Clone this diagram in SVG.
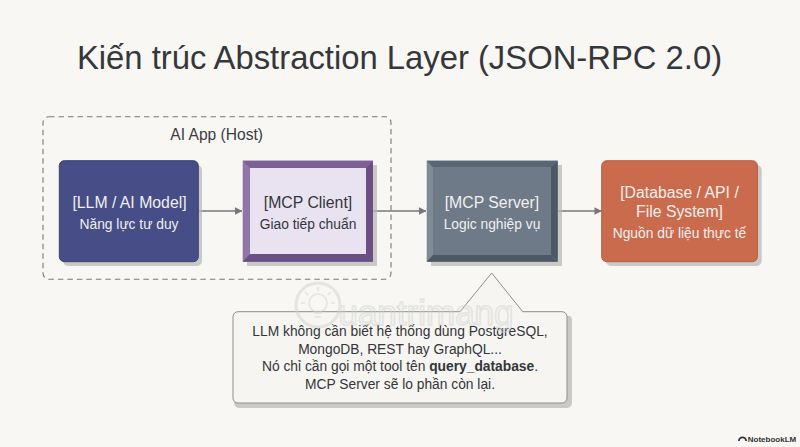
<svg xmlns="http://www.w3.org/2000/svg" width="800" height="447" viewBox="0 0 800 447">
<style>
text{font-family:"Liberation Sans",Arial,sans-serif;text-anchor:middle}
.t{font-size:15.800px}
.d{fill:#f1f0ee}
.u{font-size:13.800px}
.k{fill:#33363a;font-size:13.800px}
.c{fill:none;stroke:#76797c;stroke-width:1.400}
.s{fill:#b9b9b6;opacity:.75}
</style>
<defs>
<marker id="a" viewBox="0 0 8 8" refX="7.500" refY="4" markerWidth="7.500" markerHeight="7.500" markerUnits="userSpaceOnUse" orient="auto"><path d="M0 0L8 4L0 8Z" fill="#76797c"/></marker>
</defs>
<rect width="800" height="447" fill="#f8f7f4"/>
<text id="title" x="399.500" y="68.500" font-size="32.800" fill="#35373a">Kiến trúc Abstraction Layer (JSON-RPC 2.0)</text>
<g id="host">
<rect x="43" y="116.700" width="348" height="162.500" rx="6" fill="none" stroke="#77797b" stroke-width="1.100" stroke-dasharray="5.500 4"/>
<text x="216.700" y="140" font-size="15.600" fill="#3b3d40">AI App (Host)</text>
</g>
<g id="connectors">
<path class="c" d="M198.500 211H242" marker-end="url(#a)"/>
<path class="c" d="M373 211H426" marker-end="url(#a)"/>
<path class="c" d="M558 211H601.500" marker-end="url(#a)"/>
</g>
<g id="llm">
<rect class="s" x="63" y="165" width="139" height="101" rx="5"/>
<rect x="59.300" y="160.700" width="139" height="101" rx="5" fill="#464d87" stroke="#3a4074" stroke-width="1"/>
<text class="t d" x="129.500" y="208">[LLM / AI Model]</text>
<text class="u d" x="129" y="228.500">Năng lực tư duy</text>
</g>
<g id="client">
<rect class="s" x="247" y="165" width="130" height="101"/>
<rect x="242.700" y="160.700" width="130.300" height="101" fill="#8f75a8"/>
<path d="M242.700 160.700H373L366 168H250Z" fill="#7d6196"/>
<path d="M250 254H366L373 261.700H242.700Z" fill="#6a4f85"/>
<path d="M366 168L373 160.700V261.700L366 254Z" fill="#6a4f85"/>
<rect x="250" y="168" width="116" height="86" fill="#e9e3f1"/>
<text class="t" x="308" y="208" fill="#33363a">[MCP Client]</text>
<text class="k" x="308" y="228.500">Giao tiếp chuẩn</text>
</g>
<g id="server">
<rect class="s" x="431" y="165" width="131" height="101"/>
<rect x="426.700" y="160.700" width="131" height="101" fill="#7f8a96"/>
<path d="M426.700 160.700H557.700L551 167.300H433Z" fill="#5a6673"/>
<path d="M433 255H551L557.700 261.700H426.700Z" fill="#4d5865"/>
<path d="M551 167.300L557.700 160.700V261.700L551 255Z" fill="#4d5865"/>
<rect x="433" y="167.300" width="118" height="87.700" fill="#6e7a88"/>
<text class="t d" x="492" y="208">[MCP Server]</text>
<text class="u d" x="492" y="228.500">Logic nghiệp vụ</text>
</g>
<g id="database">
<rect class="s" x="606" y="165" width="155.700" height="101" rx="5"/>
<rect x="601.700" y="160.700" width="155.700" height="101" rx="5" fill="#ca6b4e" stroke="#b75d43" stroke-width="1"/>
<text class="t d" x="679.500" y="198">[Database / API /</text>
<text class="t d" x="679.500" y="217">File System]</text>
<text class="u d" x="679.500" y="237.500">Nguồn dữ liệu thực tế</text>
</g>
<g id="note">
<path class="s" d="M239 316H463L495 277L526 316H570a5 5 0 0 1 2 5V403a5 5 0 0 1-5 5H239a5 5 0 0 1-5-5V321a5 5 0 0 1 5-5Z"/>
<path d="M238 311.700H460L491.700 273L522.700 311.700H562a5 5 0 0 1 5 5V398a5 5 0 0 1-5 5H238a5 5 0 0 1-5-5V316.700a5 5 0 0 1 5-5Z" fill="#f6f5f2" stroke="#8d8f8f" stroke-width="1"/>
<text class="k" x="400" y="336">LLM không cần biết hệ thống dùng PostgreSQL,</text>
<text class="k" x="400" y="353.500">MongoDB, REST hay GraphQL...</text>
<text class="k" x="400" y="371">Nó chỉ cần gọi một tool tên <tspan font-weight="700">query_database</tspan>.</text>
<text class="k" x="400" y="389">MCP Server sẽ lo phần còn lại.</text>
</g>
<g id="watermark" opacity=".5" fill="none" stroke="#d2d2cf">
<circle cx="318" cy="305" r="22" stroke-width="3"/>
<circle cx="318" cy="303" r="9" stroke-width="1.500"/>
<path d="M314 313h8M315 317h6M318 287v4M305 292l3 3M331 292l-3 3M301 303h4M331 303h4" stroke-width="1.500"/>
<text x="426" y="325" font-size="35" stroke-width="1.500">uantrimang</text>
</g>
<g id="brand">
<path d="M738 441a4.500 4.500 0 0 1 9 0h-1.800a2.700 2.700 0 0 0-5.400 0Z" fill="#333"/>
<text x="772" y="441.500" font-size="8" font-weight="700" fill="#333">NotebookLM</text>
</g>
</svg>
